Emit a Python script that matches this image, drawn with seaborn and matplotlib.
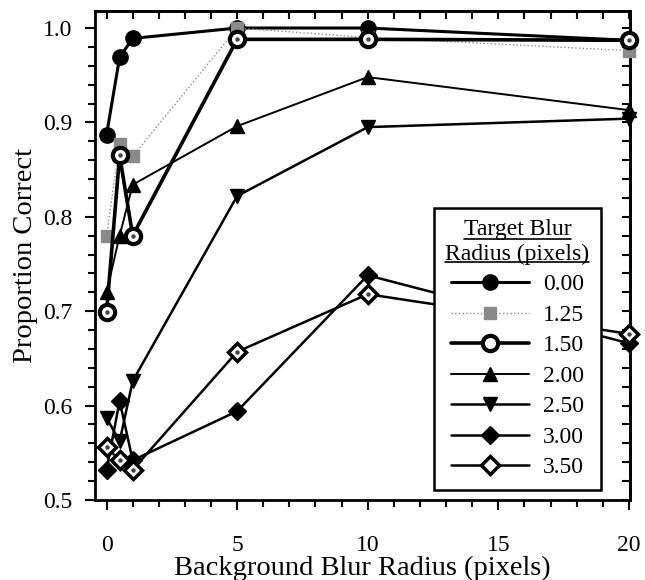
# -*- coding:utf-8 -*-
# proportion correct vs background blur, one line per target blur radius
import matplotlib
matplotlib.use('Agg')
import matplotlib.pyplot as plt
from matplotlib.lines import Line2D
from matplotlib.ticker import MultipleLocator
import seaborn as sns
import pandas as pd

background_blur = [0, 0.5, 1, 5, 10, 20]
target_blur = ['0.00', '1.25', '1.50', '2.00', '2.50', '3.00', '3.50']

pc_000 = [0.887, 0.969, 0.989, 1.000, 1.000, 0.987]
pc_125 = [0.780, 0.877, 0.864, 1.000, 0.990, 0.976]
pc_150 = [0.699, 0.865, 0.780, 0.988, 0.988, 0.987]
pc_200 = [0.720, 0.780, 0.834, 0.896, 0.948, 0.913]
pc_250 = [0.587, 0.562, 0.626, 0.822, 0.895, 0.904]
pc_300 = [0.532, 0.605, 0.542, 0.594, 0.738, 0.666]
pc_350 = [0.556, 0.542, 0.532, 0.657, 0.718, 0.676]

all_pc = [pc_000, pc_125, pc_150, pc_200, pc_250, pc_300, pc_350]

rows = []
for tb, vals in zip(target_blur, all_pc):
    for bx, v in zip(background_blur, vals):
        rows.append({'Background': bx, 'Proportion': v, 'Target': tb})
df = pd.DataFrame(rows)

# style per series
styles = {
    '0.00': dict(marker='o', color='black', lw=2.2, ms=11, mfc='black', mec='black', mew=1, ls='-'),
    '1.25': dict(marker='s', color='#8a8a8a', lw=1.0, ms=8, mfc='#8a8a8a', mec='#8a8a8a', mew=1, ls=':'),
    '1.50': dict(marker='o', color='black', lw=2.6, ms=11, mfc='white', mec='black', mew=3, ls='-'),
    '2.00': dict(marker='^', color='black', lw=1.4, ms=10, mfc='black', mec='black', mew=1, ls='-'),
    '2.50': dict(marker='v', color='black', lw=1.8, ms=10, mfc='black', mec='black', mew=1, ls='-'),
    '3.00': dict(marker='D', color='black', lw=1.8, ms=9, mfc='black', mec='black', mew=1, ls='-'),
    '3.50': dict(marker='D', color='black', lw=1.8, ms=9, mfc='white', mec='black', mew=2.5, ls='-'),
}

sns.set_style("ticks")
plt.rcParams['font.family'] = ['Liberation Serif', 'DejaVu Serif']
plt.rcParams['text.color'] = 'black'
plt.rcParams['axes.labelcolor'] = 'black'
plt.rcParams['xtick.color'] = 'black'
plt.rcParams['ytick.color'] = 'black'

fig = plt.figure(figsize=(6.45, 5.8), dpi=100)
ax = fig.add_axes([0.147, 0.138, 0.830, 0.843])

handles = []
for tb in target_blur:
    st = styles[tb]
    sub = df[df['Target'] == tb]
    sns.lineplot(data=sub, x='Background', y='Proportion', ax=ax, color=st['color'],
                 linewidth=st['lw'], linestyle=st['ls'], marker=st['marker'],
                 markersize=st['ms'], markerfacecolor=st['mfc'],
                 markeredgecolor=st['mec'], markeredgewidth=st['mew'],
                 legend=False, clip_on=False, zorder=3)
    if tb in ('1.50', '3.50'):
        # little dot in the middle of the open markers
        ax.plot(sub['Background'], sub['Proportion'], ls='none', marker='o', ms=2.2,
                color='#444444', clip_on=False, zorder=4)
    handles.append(Line2D([0], [0], color=st['color'], lw=st['lw'], ls=st['ls'],
                          marker=st['marker'], ms=st['ms'], mfc=st['mfc'],
                          mec=st['mec'], mew=st['mew']))

ax.set_xlim(-0.45, 20.05)
ax.set_ylim(0.5, 1.018)
ax.xaxis.set_major_locator(MultipleLocator(5))
ax.xaxis.set_minor_locator(MultipleLocator(1))
ax.yaxis.set_major_locator(MultipleLocator(0.1))
ax.yaxis.set_minor_locator(MultipleLocator(0.02))
ax.yaxis.set_major_formatter(plt.FuncFormatter(lambda v, p: '%.1f' % v))

for s in ax.spines.values():
    s.set_visible(True)
    s.set_linewidth(2)
    s.set_color('black')

ax.tick_params(which='both', direction='out', width=1.5, colors='black',
               labelsize=17, top=False, right=False)
ax.tick_params(which='major', length=7)
ax.tick_params(which='minor', length=5)
ax.tick_params(axis='x', pad=18)
ax.tick_params(axis='y', pad=9)

# inward ticks on top and right
ax_t = ax.secondary_xaxis('top')
ax_t.xaxis.set_major_locator(MultipleLocator(1))
ax_t.tick_params(direction='in', length=6, width=1.5, labeltop=False)
ax_t.spines['top'].set_linewidth(2)
ax_r = ax.secondary_yaxis('right')
ax_r.yaxis.set_major_locator(MultipleLocator(0.02))
ax_r.tick_params(direction='in', length=6, width=1.5, labelright=False)
ax_r.spines['right'].set_linewidth(2)

ax.set_xlabel('Background Blur Radius (pixels)', fontsize=20.5, labelpad=0)
ax.set_ylabel('Proportion Correct', fontsize=20.5, labelpad=4)

leg = ax.legend(handles, target_blur, title='Target Blur\nRadius (pixels)',
                loc='lower right', bbox_to_anchor=(0.946, 0.02), fontsize=17,
                title_fontsize=17, handlelength=3.3, handletextpad=0.6,
                labelspacing=0.38, borderpad=0.5, borderaxespad=0, frameon=True,
                fancybox=False, alignment='center')
leg.get_title().set_multialignment('center')
leg.get_frame().set_edgecolor('black')
leg.get_frame().set_linewidth(1.8)
leg.get_frame().set_alpha(1)

# underline the legend title lines
fig.canvas.draw()
r = fig.canvas.get_renderer()
title = leg.get_title()
tb_box = title.get_window_extent(r)
lines_txt = title.get_text().split('\n')
line_h = tb_box.height / len(lines_txt)
cx = (tb_box.x0 + tb_box.x1) / 2
for i, t in enumerate(lines_txt):
    tmp = fig.text(0, 0, t, fontsize=17)
    w = tmp.get_window_extent(r).width
    tmp.remove()
    yb = tb_box.y1 - (i + 1) * line_h + line_h * 0.12
    x0, x1 = cx - w / 2, cx + w / 2
    p0 = fig.transFigure.inverted().transform((x0, yb))
    p1 = fig.transFigure.inverted().transform((x1, yb))
    fig.add_artist(Line2D([p0[0], p1[0]], [p0[1], p1[1]], color='black', lw=1.2, zorder=10))

fig.savefig('out.png', dpi=100)
